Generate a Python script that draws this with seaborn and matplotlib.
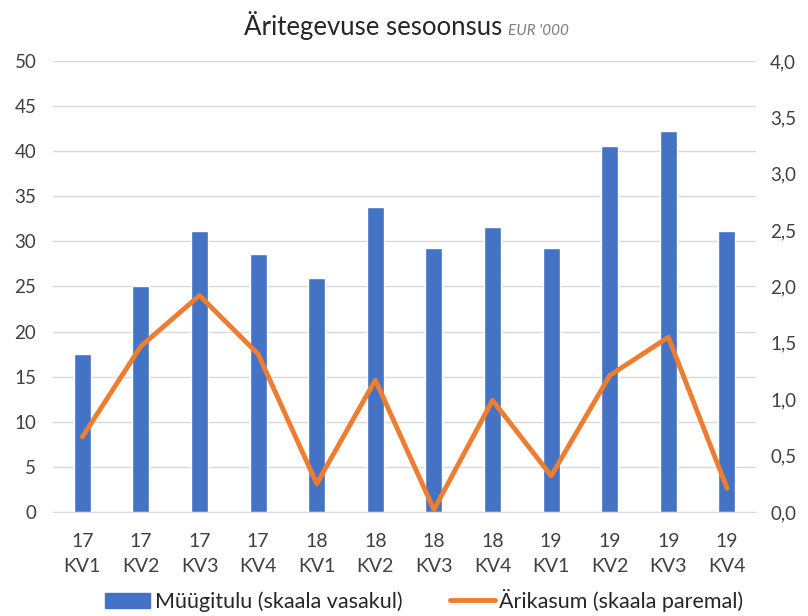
import numpy as np
import matplotlib
matplotlib.use("Agg")
import matplotlib.pyplot as plt
import seaborn as sns

# data
years = ["17", "17", "17", "17", "18", "18", "18", "18", "19", "19", "19", "19"]
quarters = ["KV1", "KV2", "KV3", "KV4"] * 3
sales = [17.5, 25.05, 31.15, 28.6, 25.9, 33.8, 29.3, 31.6, 29.3, 40.6, 42.2, 31.15]
profit = [0.665, 1.47, 1.92, 1.40, 0.25, 1.17, 0.02, 0.99, 0.32, 1.21, 1.55, 0.21]
labels = [f"{y}\n{q}" for y, q in zip(years, quarters)]

BLUE = "#4472C4"
ORANGE = "#ED7D31"

sns.set_style("white")
plt.rcParams["font.family"] = ["Lato", "DejaVu Sans"]

fig = plt.figure(figsize=(8.08, 6.16), dpi=100)
ax = fig.add_axes([0.0656, 0.169, 0.8704, 0.732])

sns.barplot(x=labels, y=sales, color=BLUE, width=0.29, saturation=1, ax=ax)
ax.set_xlim(-0.5, len(labels) - 0.5)
ax.set_ylim(0, 50)
ax.set_yticks(range(0, 51, 5))
ax.yaxis.grid(True, color="#D9D9D9", lw=1)
ax.set_axisbelow(True)
for s in ["top", "left", "right"]:
    ax.spines[s].set_visible(False)
ax.spines["bottom"].set_color("#D9D9D9")
ax.tick_params(axis="both", length=0, labelsize=13.5, colors="#404040")
ax.tick_params(axis="y", pad=12)
ax.tick_params(axis="x", pad=15, labelsize=14)
ax.set_xticks(range(len(labels)))
ax.set_xticklabels(labels, linespacing=1.6)

ax2 = ax.twinx()
sns.lineplot(x=np.arange(len(profit)), y=profit, color=ORANGE, lw=3.5, ax=ax2)
ax2.set_ylim(0, 4)
ax2.set_yticks(np.arange(0, 4.01, 0.5))
ax2.set_yticklabels([f"{v:.1f}".replace(".", ",") for v in np.arange(0, 4.01, 0.5)])
ax2.tick_params(axis="y", length=0, labelsize=13.5, colors="#404040", pad=10)
for s in ax2.spines.values():
    s.set_visible(False)
ax2.set_xlim(-0.5, len(labels) - 0.5)

fig.text(502 / 808, 0.943, "Äritegevuse sesoonsus", ha="right", va="baseline",
         fontsize=18.5, color="#262626")
fig.text(508 / 808, 0.943, "EUR '000", ha="left", va="baseline",
         fontsize=11, style="italic", color="#7F7F7F")

handles = [plt.Rectangle((0, 0), 1, 1, color=BLUE),
           plt.Line2D([], [], color=ORANGE, lw=3.5)]
fig.legend(handles, ["Müügitulu (skaala vasakul)", "Ärikasum (skaala paremal)"],
           loc="lower center", bbox_to_anchor=(0.525, -0.025), ncol=2, frameon=False,
           fontsize=15.5, handlelength=2.1, handletextpad=0.2, columnspacing=2.2,
           labelcolor="#262626")

fig.savefig("out.png", dpi=100)
